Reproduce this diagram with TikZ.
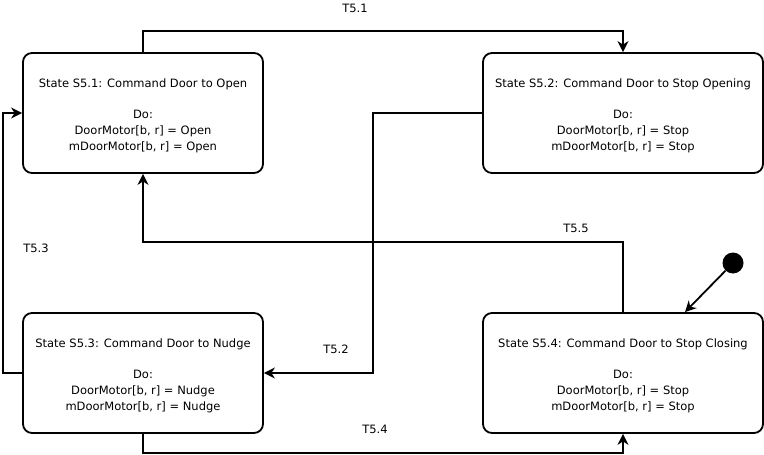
\documentclass[tikz,border=0pt]{standalone}
\usepackage{fontspec}
\setmainfont{DejaVu Sans}
\usetikzlibrary{arrows.meta,calc}
\newcommand{\topstrut}{\rule{0pt}{15pt}}
\begin{document}
\begin{tikzpicture}[x=1pt,y=-1pt,
  state/.style={draw,line width=1.8pt,rounded corners=9pt,minimum width=240pt,minimum height=120pt,align=center,inner sep=0pt,font=\fontsize{11.5}{16}\selectfont},
  conn/.style={line width=1.8pt,-{Stealth[length=11pt,width=11pt,inset=3.5pt]}},
  lab/.style={font=\fontsize{11.5}{14}\selectfont}]
\useasboundingbox (0,0) rectangle (764,455);
\node[state] (s1) at (143,113) {\topstrut State S5.1: Command Door to Open\\[15pt]Do:\\DoorMotor[b, r] = Open\\mDoorMotor[b, r] = Open};
\node[state,minimum width=280pt] (s2) at (623,113) {\topstrut State S5.2: Command Door to Stop Opening\\[15pt]Do:\\DoorMotor[b, r] = Stop\\mDoorMotor[b, r] = Stop};
\node[state] (s3) at (143,373) {\topstrut State S5.3: Command Door to Nudge\\[15pt]Do:\\DoorMotor[b, r] = Nudge\\mDoorMotor[b, r] = Nudge};
\node[state,minimum width=280pt] (s4) at (623,373) {\topstrut State S5.4: Command Door to Stop Closing\\[15pt]Do:\\DoorMotor[b, r] = Stop\\mDoorMotor[b, r] = Stop};
\node[circle,fill,minimum size=21pt,inner sep=0pt] (init) at (733,263) {};
\draw[conn] (s1.north) -- (143,31) -| (s2.north);
\draw[conn] (s2.west) -- (373,113) |- (s3.east);
\draw[conn] (s3.west) -- (3,373) |- (s1.west);
\draw[conn] (s3.south) -- (143,453) -| (s4.south);
\draw[conn] (s4.north) -- (623,242) -| (s1.south);
\draw[conn] (init) -- ($(s4.north)+(62,0)$);
\node[lab] (t1) at (355,8) {T5.1};
\node[lab] (t2) at (336,349) {T5.2};
\node[lab] (t3) at (36,248) {T5.3};
\node[lab] (t4) at (375,429) {T5.4};
\node[lab] (t5) at (576,228) {T5.5};
\end{tikzpicture}
\end{document}
